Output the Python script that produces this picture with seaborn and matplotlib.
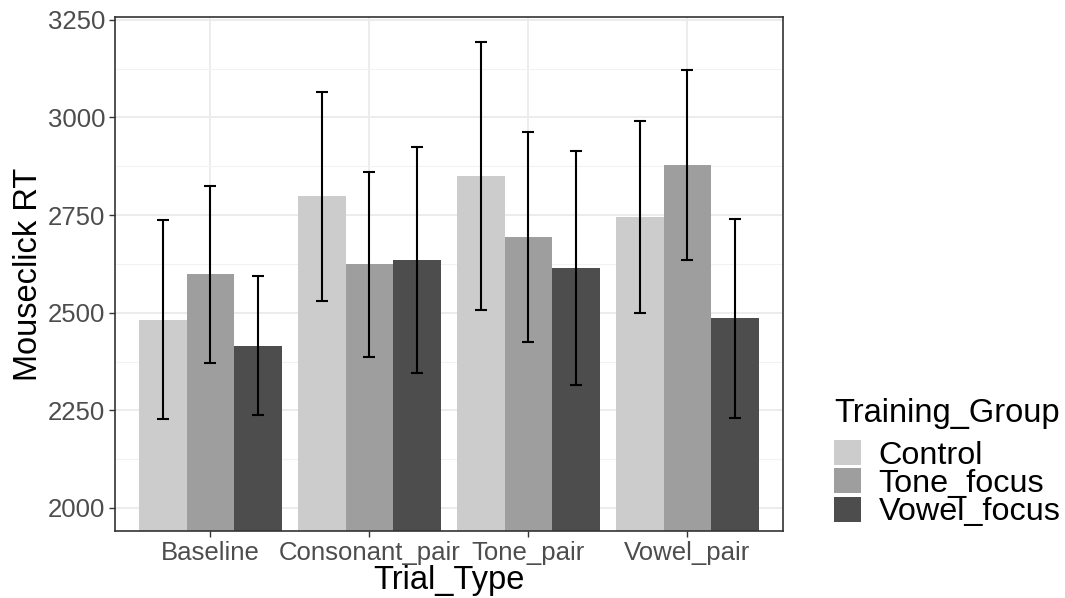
import matplotlib
matplotlib.use("Agg")
import matplotlib.pyplot as plt
from matplotlib.ticker import MultipleLocator
import numpy as np
import pandas as pd
import seaborn as sns

# Mean mouse-click reaction time (ms) per trial type and training group
trial_types = ["Baseline", "Consonant_pair", "Tone_pair", "Vowel_pair"]
groups = ["Control", "Tone_focus", "Vowel_focus"]
control_rt = [2482, 2798, 2851, 2745]
tone_focus_rt = [2598, 2624, 2694, 2878]
vowel_focus_rt = [2415, 2635, 2615, 2486]
# Half-widths of the error bars
control_err = [255, 268, 343, 246]
tone_focus_err = [226, 237, 269, 243]
vowel_focus_err = [178, 290, 299, 255]
group_colors = ["#CCCCCC", "#9E9E9E", "#4D4D4D"]

means = [control_rt, tone_focus_rt, vowel_focus_rt]
errs = [control_err, tone_focus_err, vowel_focus_err]
df = pd.DataFrame({
    "Trial_Type": np.tile(trial_types, len(groups)),
    "Training_Group": np.repeat(groups, len(trial_types)),
    "RT": np.concatenate(means),
})

sns.set_theme(style="white")
plt.rcParams["font.family"] = ["Liberation Sans", "DejaVu Sans"]
plt.rcParams["text.color"] = "black"
plt.rcParams["axes.labelcolor"] = "black"

fig = plt.figure(figsize=(10.65, 5.98), dpi=100)
ax = fig.add_axes([0.108, 0.112, 0.627, 0.860])

sns.barplot(data=df, x="Trial_Type", y="RT", hue="Training_Group",
            order=trial_types, hue_order=groups, palette=group_colors,
            errorbar=None, width=0.9, gap=0, saturation=1,
            linewidth=0, ax=ax, zorder=2)

# Error bars centred on each bar
for container, err in zip(ax.containers, errs):
    xs = [b.get_x() + b.get_width() / 2 for b in container]
    ys = [b.get_height() for b in container]
    ax.errorbar(xs, ys, yerr=err, fmt="none", ecolor="black",
                elinewidth=1.5, capsize=4.5, capthick=1.5, zorder=3)

ax.set_ylim(1941, 3258)
ax.set_xlim(-0.6, 3.6)
ax.yaxis.set_major_locator(MultipleLocator(250))
ax.yaxis.set_minor_locator(MultipleLocator(125))
ax.grid(which="major", color="#EBEBEB", linewidth=1.3, zorder=0)
ax.grid(which="minor", axis="y", color="#F2F2F2", linewidth=0.8, zorder=0)
ax.set_axisbelow(True)
for s in ax.spines.values():
    s.set_color("#333333")
    s.set_linewidth(1.2)

ax.tick_params(axis="both", which="major", length=4, width=1, color="#333333",
               labelsize=18.5, labelcolor="#4D4D4D", pad=3, bottom=True, left=True)
ax.tick_params(axis="both", which="minor", length=0)
ax.set_xlabel("Trial_Type", fontsize=23.5, color="black", labelpad=0)
ax.set_ylabel("Mouseclick RT", fontsize=23.5, color="black", labelpad=3)

sns.move_legend(ax, "lower left", bbox_to_anchor=(0.783, 0.118),
                bbox_transform=fig.transFigure,
                frameon=False, title="Training_Group", fontsize=23.3,
                title_fontsize=23.5, handlelength=0.83, handleheight=0.8,
                labelspacing=-0.07, handletextpad=0.55, borderaxespad=0,
                borderpad=0)
leg = ax.get_legend()
leg._legend_box.align = "left"
leg._legend_box.sep = 8
leg.get_title().set_color("black")
for t in leg.get_texts():
    t.set_color("black")

fig.savefig("out.png", dpi=100)
